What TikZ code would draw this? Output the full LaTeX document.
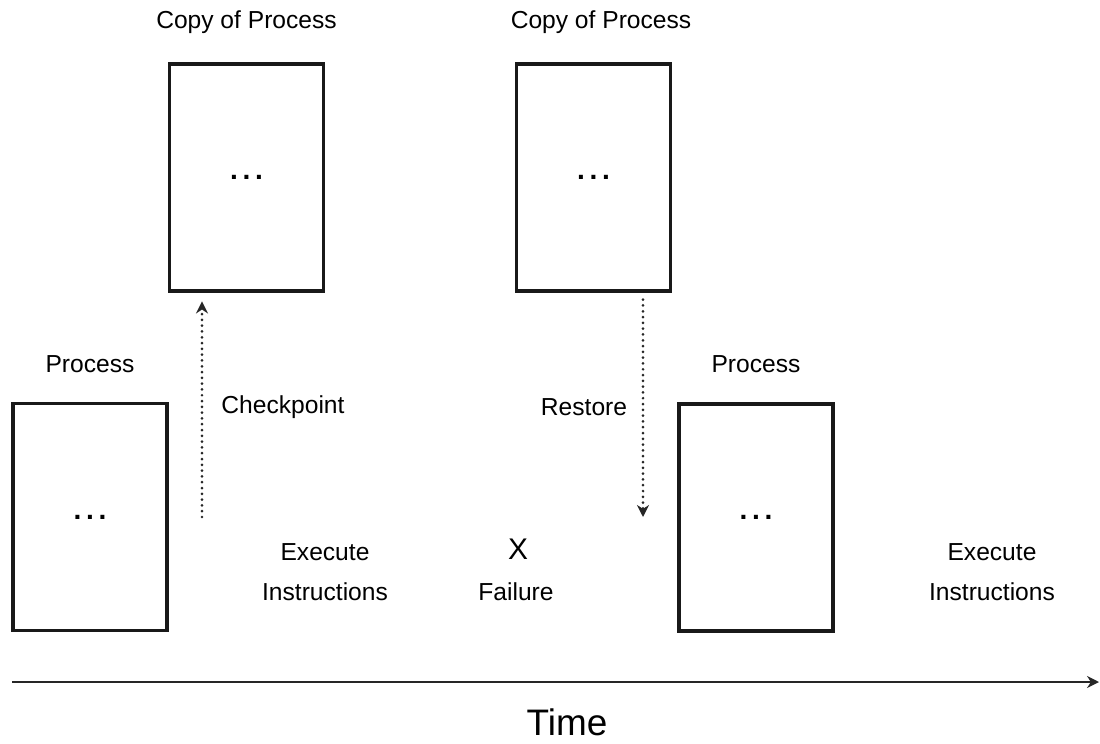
\documentclass[tikz,border=0pt]{standalone}
\usepackage{fontspec}
\setmainfont{Liberation Sans}
\usepackage{tikz}
\usetikzlibrary{arrows.meta,positioning}

\begin{document}
\begin{tikzpicture}[
  x=0.02cm,y=-0.02cm,>={Stealth[length=2.4mm,width=2.4mm]},
  txt/.style={font=\fontsize{14}{22.5}\selectfont,align=center,inner sep=0pt},
  procbox/.style={draw=black!90,line width=1.9pt,minimum width=3.08cm,
    minimum height=4.54cm,inner sep=0pt,font=\fontsize{16}{16}\selectfont\bfseries},
  dots/.style={->,line width=1.7pt,line cap=round,draw=black!85,
    dash pattern=on 0pt off 3.3pt},
  axis/.style={->,line width=1.1pt,draw=black!85}
]
\useasboundingbox (0,0) rectangle (1100,744);

% the process before and after
\node[procbox] (proc1) at (90,517) {.\,.\,.};
\node[procbox] (proc2) at (756,517.5) {.\,.\,.};
\node[txt] (lproc1) at (90,364) {Process};
\node[txt] (lproc2) at (756,364) {Process};

% copies kept aside
\node[procbox] (copy1) at (246.5,177.5) {.\,.\,.};
\node[procbox] (copy2) at (593.5,177.5) {.\,.\,.};
\node[txt] (lcopy1) at (246.5,22) {Copy of Process};
\node[txt] (lcopy2) at (601,22) {Copy of Process};

% checkpoint and restore
\coordinate (ck) at (202,517);
\coordinate (rs) at (643,517);
\draw[dots,shorten >=5pt] (ck) -- (ck |- copy1.south);
\draw[dots,shorten <=4pt] (rs |- copy2.south) -- (rs);
\node[txt] (lck) at (283,407) {Checkpoint};
\node[txt] (lrs) at (584,407) {Restore};

\node[txt] (ex1) at (325,572) {Execute\\Instructions};
\node[txt] (ex2) at (992,572) {Execute\\Instructions};
\node[txt,font=\fontsize{17}{17}\selectfont] (fx) at (518,549) {X};
\node[txt] (fail) at (516,592) {Failure};

% time axis
\coordinate (t0) at (12,682);
\coordinate (t1) at (1099,682);
\draw[axis] (t0) -- (t1);
\node[txt,font=\fontsize{21}{21}\selectfont] (time) at (567,722) {Time};
\end{tikzpicture}
\end{document}
